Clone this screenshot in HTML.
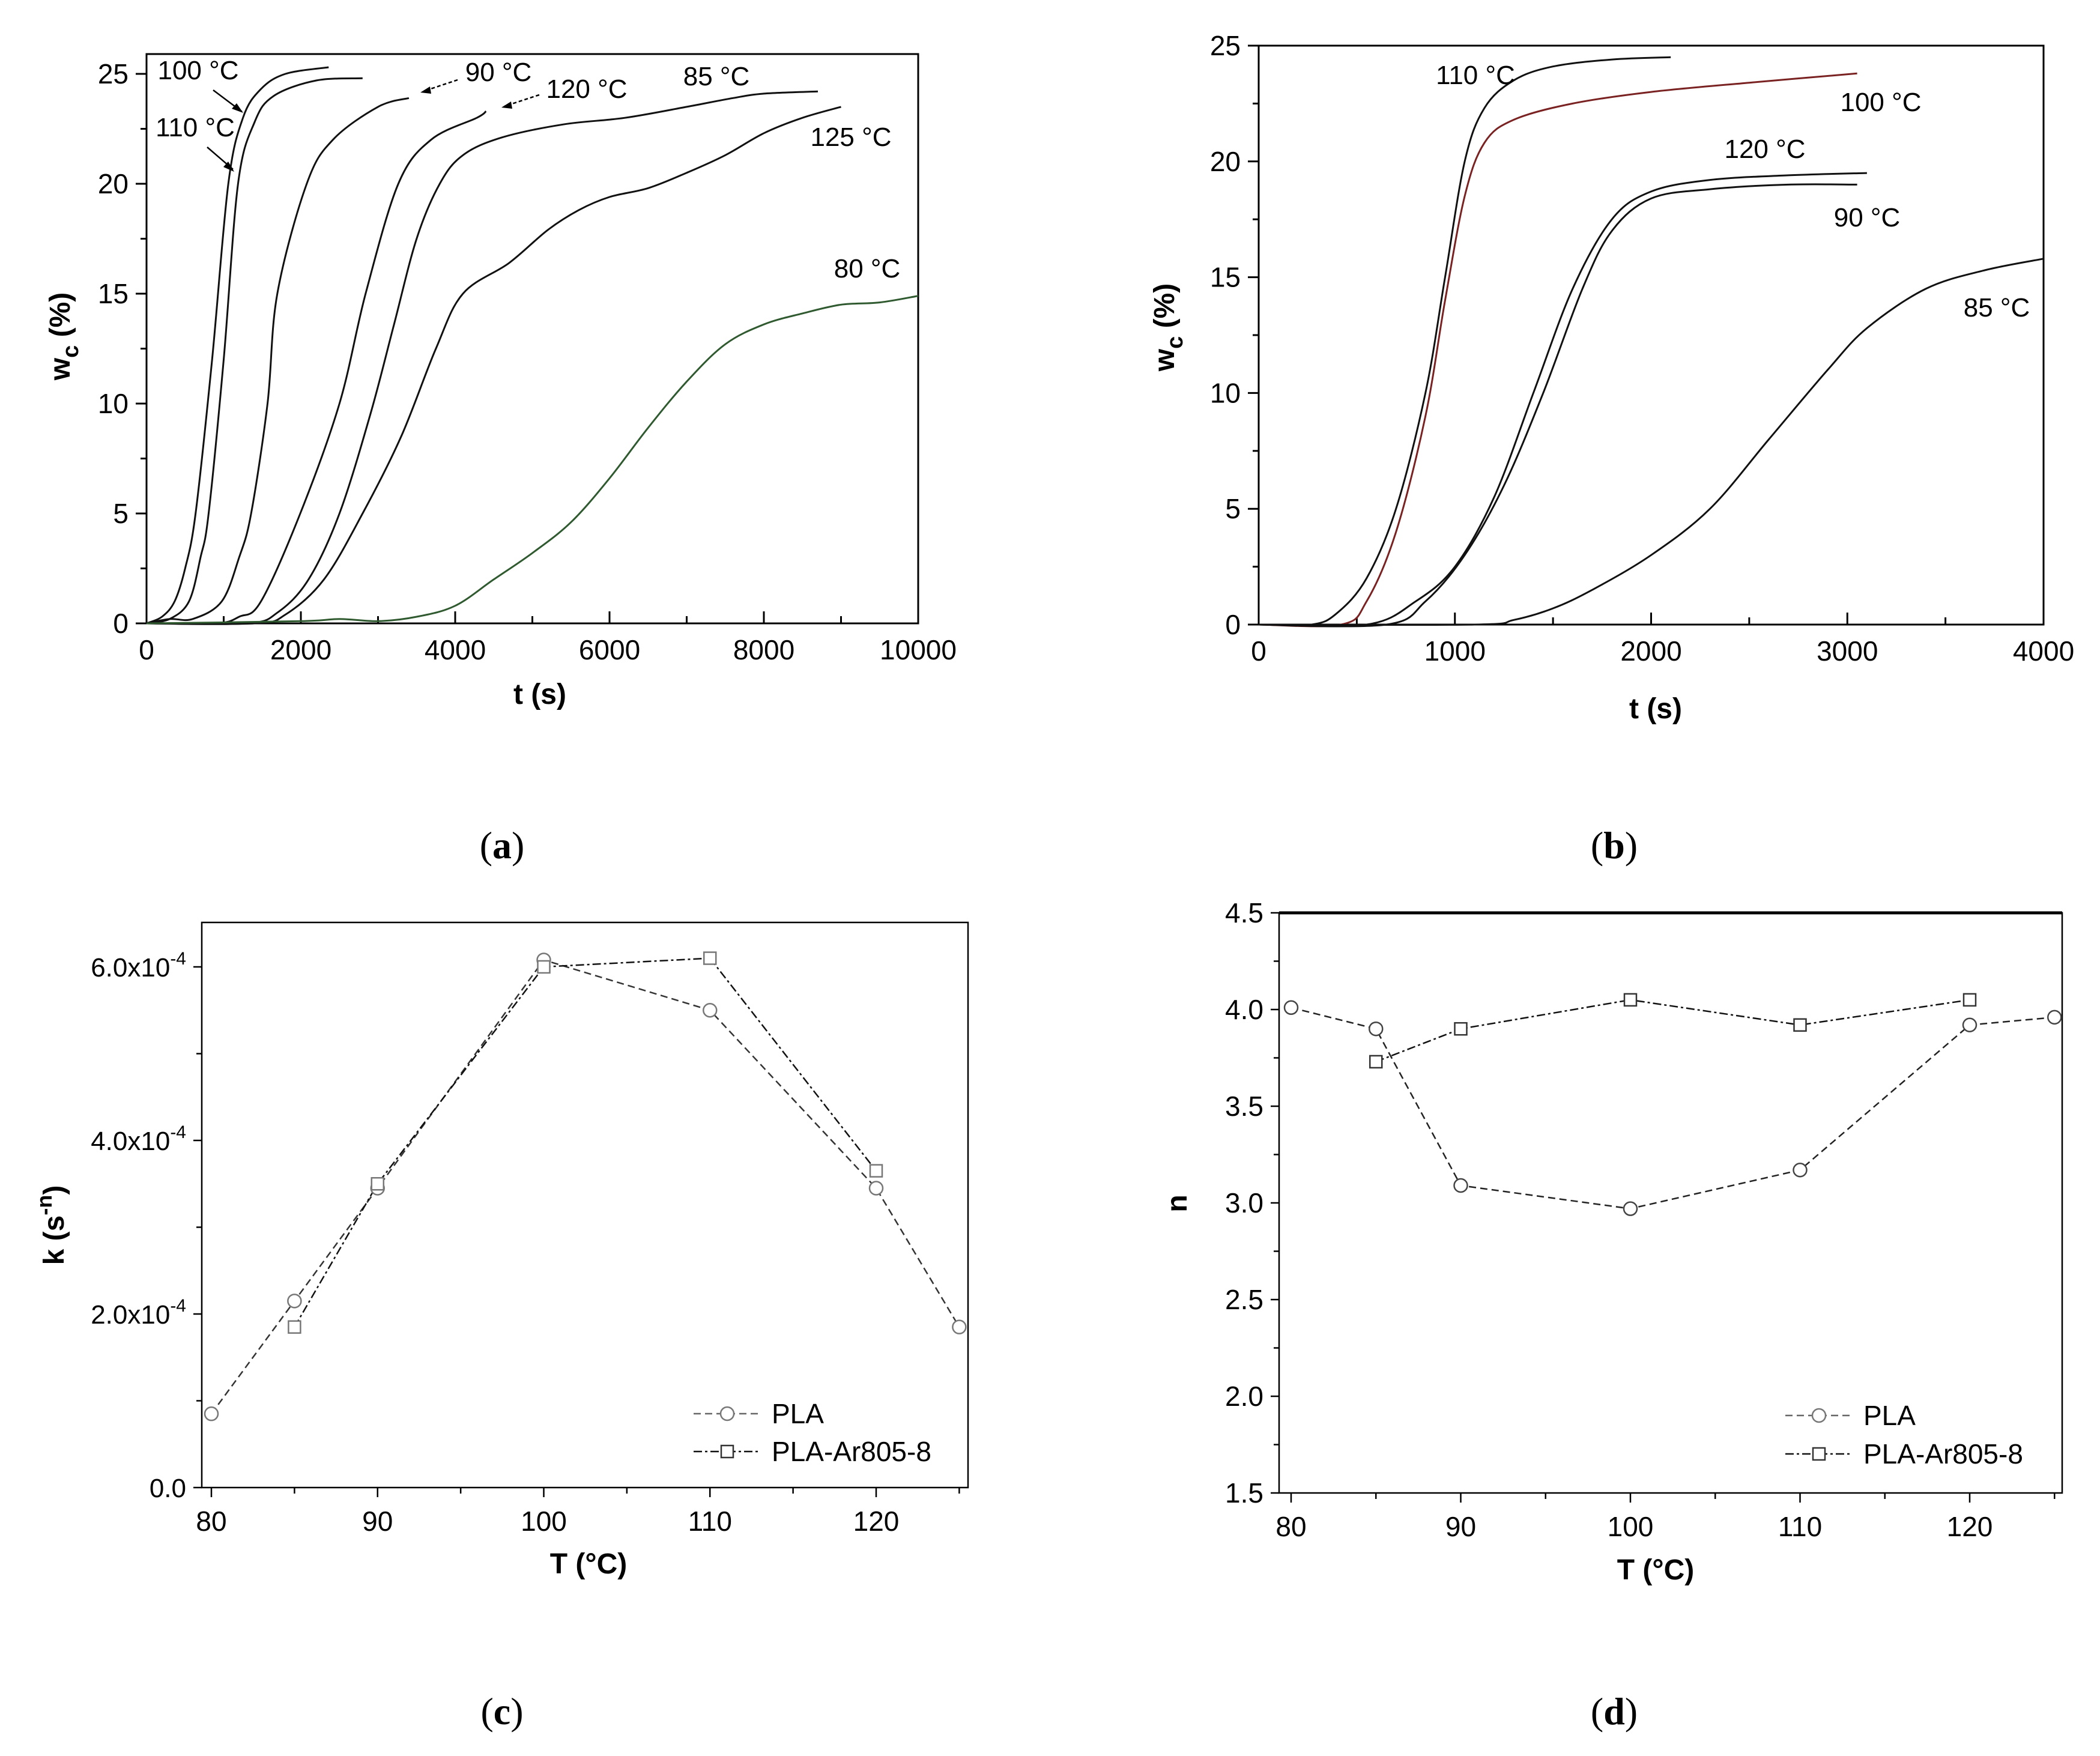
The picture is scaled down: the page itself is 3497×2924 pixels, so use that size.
<!DOCTYPE html>
<html><head><meta charset="utf-8"><style>
html,body{margin:0;padding:0;background:#fff;}
svg{display:block;font-family:"Liberation Sans",Arial,sans-serif;}
</style></head><body>
<svg id="fig" width="3497" height="2924" viewBox="0 0 3497 2924" xmlns="http://www.w3.org/2000/svg">
<rect width="3497" height="2924" fill="#fff"/>
<g id="pa"></g>
<g id="pb"></g>
<g id="pc"></g>
<g id="pd"></g>
<text x="836" y="1429" font-family="Liberation Serif,serif" font-size="64" text-anchor="middle">(<tspan font-weight="bold">a</tspan>)</text>
<text x="2688" y="1429" font-family="Liberation Serif,serif" font-size="64" text-anchor="middle">(<tspan font-weight="bold">b</tspan>)</text>
<text x="836" y="2871" font-family="Liberation Serif,serif" font-size="64" text-anchor="middle">(<tspan font-weight="bold">c</tspan>)</text>
<text x="2688" y="2871" font-family="Liberation Serif,serif" font-size="64" text-anchor="middle">(<tspan font-weight="bold">d</tspan>)</text>
</svg>
<script>
// ---- Panel a data ----
const aNames=["100 °C","110 °C","90 °C","120 °C","85 °C","125 °C","80 °C"];
const a100T=[0,200,364,500,636,850,1060,1250,1480,1800,2360];
const a100W=[0,0.3,1,2.5,5,12,20,23,24.3,25,25.3];
const a110T=[0,300,550,700,805,1000,1186,1400,1650,2200,2800];
const a110W=[0,0.2,1,3,5,12,20,22.8,24,24.7,24.8];
const a90T=[0,300,600,975,1200,1356,1568,1695,2076,2415,3000,3400];
const a90W=[0,0.2,0.2,1,3,5,10,15,20,22,23.5,23.9];
const a120T=[0,900,1200,1483,1992,2500,2839,3263,3686,4280,4400];
const a120W=[0,0,0.3,1,5,10,15,20,22,23,23.3];
const a85T=[0,1300,1700,2100,2500,2900,3200,3500,3800,4100,4600,5400,6200,7000,7600,8000,8700];
const a85W=[0,0,0.5,2,5,9.5,13.5,17.5,20,21.3,22.1,22.7,23,23.5,23.9,24.1,24.2];
const a125T=[0,1400,1800,2300,2800,3300,3750,4100,4700,5200,5600,6000,6500,7000,7500,8000,8500,9000];
const a125W=[0,0,0.4,2,5,8.5,12.5,15,16.4,17.9,18.8,19.4,19.8,20.5,21.3,22.3,23,23.5];
const a80T=[0,2000,2500,3000,3500,4000,4500,5000,5500,6000,6500,7000,7500,8000,8500,9000,9500,10000];
const a80W=[0,0.1,0.2,0.1,0.3,0.8,2,3.2,4.6,6.6,8.9,11,12.7,13.6,14.1,14.5,14.6,14.9];
const aXTicks=[0,2000,4000,6000,8000,10000];
const aYTicks=[0,5,10,15,20,25];
// ---- Panel b data ----
const b110T=[0,270,400,550,700,850,950,1050,1150,1300,1500,1800,2100];
const b110W=[0,0,0.5,2,5,10,15,20,22.3,23.5,24.1,24.4,24.5];
const b100T=[0,420,550,700,850,950,1050,1150,1300,1600,2000,2500,3050];
const b100W=[0,0,1,4,9,14,18.5,20.8,21.8,22.5,23,23.4,23.8];
const b120T=[0,550,800,1000,1200,1400,1600,1800,2000,2300,2700,3100];
const b120W=[0,0,1,2.5,5.5,10,14.5,17.5,18.7,19.2,19.4,19.5];
const b90T=[0,650,850,1050,1250,1450,1650,1800,2000,2300,2700,3050];
const b90W=[0,0,1,3,6,10,14.5,17,18.4,18.8,19,19];
const b85T=[0,1100,1300,1500,1700,2000,2300,2600,2900,3100,3400,3700,4000];
const b85W=[0,0,0.2,0.7,1.5,3,5,8,11,12.8,14.5,15.3,15.8];
const bXTicks=[0,1000,2000,3000,4000];
const bYTicks=[0,5,10,15,20,25];
// ---- Panel c data (k x1e-4) ----
const cPlaT=[80,85,90,100,110,120,125];
const cPlaK=[0.85,2.15,3.45,6.08,5.5,3.45,1.85];
const cArT=[85,90,100,110,120];
const cArK=[1.85,3.5,6.0,6.1,3.65];
const cXTicks=[80,90,100,110,120];
const cYTicks=[0,2,4,6];
// ---- Panel d data ----
const dPlaT=[80,85,90,100,110,120,125];
const dPlaN=[4.01,3.9,3.09,2.97,3.17,3.92,3.96];
const dArT=[85,90,100,110,120];
const dArN=[3.73,3.9,4.05,3.92,4.05];
const dXTicks=[80,90,100,110,120];
const dYTicks=[1.5,2.0,2.5,3.0,3.5,4.0,4.5];

const NS="http://www.w3.org/2000/svg";
function mk(parent,tag,attrs,text){const e=document.createElementNS(NS,tag);for(const k in attrs)e.setAttribute(k,attrs[k]);if(text!==undefined)e.textContent=text;parent.appendChild(e);return e;}
function smooth(pts){let d="M"+pts[0][0]+","+pts[0][1];for(let i=0;i<pts.length-1;i++){const p0=pts[i-1]||pts[i],p1=pts[i],p2=pts[i+1],p3=pts[i+2]||p2;const c1x=p1[0]+(p2[0]-p0[0])/6,c1y=p1[1]+(p2[1]-p0[1])/6,c2x=p2[0]-(p3[0]-p1[0])/6,c2y=p2[1]-(p3[1]-p1[1])/6;d+=" C"+c1x.toFixed(1)+","+c1y.toFixed(1)+" "+c2x.toFixed(1)+","+c2y.toFixed(1)+" "+p2[0].toFixed(1)+","+p2[1].toFixed(1);}return d;}

function frame(g,L,R,T,B){const f=mk(g,"rect",{x:L,y:T,width:R-L,height:B-T,fill:"none",stroke:"#000","stroke-width":3});

}

// ===== Panel a =====
(function(){const g=document.getElementById("pa");const L=244,R=1529,T=90,B=1038;
const sx=t=>L+(t/10000)*(R-L), sy=w=>B-(w/25)*(B-123);
frame(g,L,R,T,B);
for(let t=0;t<=10000;t+=1000){const maj=t%2000===0;mk(g,"line",{x1:sx(t),x2:sx(t),y1:B,y2:B-(maj?20:12),stroke:"#000","stroke-width":3});}
for(let w=0;w<=25;w+=2.5){const maj=w%5===0;mk(g,"line",{x1:L,x2:L-(maj?18:10),y1:sy(w),y2:sy(w),stroke:"#000","stroke-width":3});}
aXTicks.forEach(t=>{const e=mk(g,"text",{x:sx(t),y:B+60,"font-size":46,"text-anchor":"middle"},String(t));

});
aYTicks.forEach(w=>{const e=mk(g,"text",{x:L-30,y:sy(w)+16,"font-size":46,"text-anchor":"end"},String(w));

});
const xt=mk(g,"text",{x:899,y:1172,"font-size":48,"font-weight":"bold","text-anchor":"middle"},"t (s)");


const yt=mk(g,"text",{transform:"translate(116,560) rotate(-90)","font-size":48,"font-weight":"bold","text-anchor":"middle"});
yt.innerHTML='w<tspan dy="14" font-size="38">c</tspan><tspan dy="-14"> (%)</tspan>';


const series=[[a100T,a100W],[a110T,a110W],[a90T,a90W],[a120T,a120W],[a85T,a85W],[a125T,a125W],[a80T,a80W]];
series.forEach((s,i)=>{const p=mk(g,"path",{d:smooth(s[0].map((t,j)=>[sx(t),sy(s[1][j])])),fill:"none",stroke:i===6?"#2f5a2f":"#111","stroke-width":3});

});
const labs=[["100 °C",330,132],["110 °C",325,227],["90 °C",830,135],["120 °C",977,163],["85 °C",1193,142],["125 °C",1417,243],["80 °C",1444,462]];
labs.forEach(l=>{const e=mk(g,"text",{x:l[1],y:l[2],"font-size":44,"text-anchor":"middle"},l[0]);

});
mk(g,"line",{x1:355,y1:150,x2:403,y2:186,stroke:"#000","stroke-width":2.5});
mk(g,"polygon",{points:"405,188 386,181 394,172",fill:"#000"});
mk(g,"line",{x1:345,y1:245,x2:388,y2:282,stroke:"#000","stroke-width":2.5});
mk(g,"polygon",{points:"390,286 372,278 380,269",fill:"#000"});
mk(g,"line",{x1:762,y1:133,x2:705,y2:152,stroke:"#000","stroke-width":2.5,"stroke-dasharray":"6 4"});
mk(g,"polygon",{points:"700,154 716,144 718,156",fill:"#000"});
mk(g,"line",{x1:898,y1:158,x2:840,y2:177,stroke:"#000","stroke-width":2.5,"stroke-dasharray":"6 4"});
mk(g,"polygon",{points:"835,179 851,169 853,181",fill:"#000"});
})();

// ===== Panel b =====
(function(){const g=document.getElementById("pb");const L=2096,R=3403,T=76,B=1040;
const sx=t=>L+(t/4000)*(R-L), sy=w=>B-(w/25)*(B-T);
frame(g,L,R,T,B);
for(let t=0;t<=4000;t+=500){const maj=t%1000===0;mk(g,"line",{x1:sx(t),x2:sx(t),y1:B,y2:B-(maj?20:12),stroke:"#000","stroke-width":3});}
for(let w=0;w<=25;w+=2.5){const maj=w%5===0;mk(g,"line",{x1:L,x2:L-(maj?18:10),y1:sy(w),y2:sy(w),stroke:"#000","stroke-width":3});}
bXTicks.forEach(t=>{const e=mk(g,"text",{x:sx(t),y:B+60,"font-size":46,"text-anchor":"middle"},String(t));

});
bYTicks.forEach(w=>{const e=mk(g,"text",{x:L-30,y:sy(w)+16,"font-size":46,"text-anchor":"end"},String(w));

});
const xt=mk(g,"text",{x:2757,y:1196,"font-size":48,"font-weight":"bold","text-anchor":"middle"},"t (s)");


const yt=mk(g,"text",{transform:"translate(1955,545) rotate(-90)","font-size":48,"font-weight":"bold","text-anchor":"middle"});
yt.innerHTML='w<tspan dy="14" font-size="38">c</tspan><tspan dy="-14"> (%)</tspan>';


const series=[[b110T,b110W,"#111","110c"],[b100T,b100W,"#7a2222","100c"],[b120T,b120W,"#111","120c"],[b90T,b90W,"#111","90c"],[b85T,b85W,"#111","85c"]];
series.forEach(s=>{const p=mk(g,"path",{d:smooth(s[0].map((t,j)=>[sx(t),sy(s[1][j])])),fill:"none",stroke:s[2],"stroke-width":3});

});
const labs=[["110 °C",2457,140],["100 °C",3132,185],["120 °C",2939,263],["90 °C",3109,377],["85 °C",3325,527]];
labs.forEach(l=>{const e=mk(g,"text",{x:l[1],y:l[2],"font-size":44,"text-anchor":"middle"},l[0]);

});
})();

function markers(g,pts,type,color){pts.forEach(p=>{let e;if(type==="c")e=mk(g,"circle",{cx:p[0],cy:p[1],r:11,fill:"#fff",stroke:color,"stroke-width":2.5});else e=mk(g,"rect",{x:p[0]-10,y:p[1]-10,width:20,height:20,fill:"#fff",stroke:color,"stroke-width":2.5});

});}

function legend(g,x0,y1,y2,tx){mk(g,"line",{x1:x0,x2:x0+112,y1:y1,y2:y1,stroke:"#666","stroke-width":2.5,"stroke-dasharray":"12 7"});
const c=mk(g,"circle",{cx:x0+56,cy:y1,r:11,fill:"#fff",stroke:"#777","stroke-width":2.5});


mk(g,"line",{x1:x0,x2:x0+112,y1:y2,y2:y2,stroke:"#111","stroke-width":2.5,"stroke-dasharray":"14 5 4 5"});
const r=mk(g,"rect",{x:x0+46,y:y2-10,width:20,height:20,fill:"#fff",stroke:"#333","stroke-width":2.5});


const t1=mk(g,"text",{x:tx,y:y1+16,"font-size":46},"PLA");


const t2=mk(g,"text",{x:tx,y:y2+16,"font-size":46},"PLA-Ar805-8");

}

// ===== Panel c =====
(function(){const g=document.getElementById("pc");const L=336,R=1612,T=1536,B=2477;
const sx=t=>352+(t-80)*(1459-352)/40, sy=k=>B-(k/6)*(B-1610);
mk(g,"rect",{x:L,y:T,width:R-L,height:B-T,fill:"none",stroke:"#000","stroke-width":2.5});
for(let t=80;t<=125;t+=5){const maj=t%10===0;mk(g,"line",{x1:sx(t),x2:sx(t),y1:B,y2:B+(maj?16:10),stroke:"#000","stroke-width":2.5});}
for(let k=0;k<=6.5;k+=1){const maj=k%2===0;mk(g,"line",{x1:L,x2:L-(maj?14:9),y1:sy(k),y2:sy(k),stroke:"#000","stroke-width":2.5});}
cXTicks.forEach(t=>{const e=mk(g,"text",{x:sx(t),y:B+72,"font-size":46,"text-anchor":"middle"},String(t));

});
cYTicks.forEach(k=>{const e=mk(g,"text",{x:L-26,y:sy(k)+16,"font-size":44,"text-anchor":"end"});
e.innerHTML=k===0?"0.0":(k.toFixed(1)+'x10<tspan dy="-20" font-size="30">-4</tspan>');

});
const xt=mk(g,"text",{x:980,y:2620,"font-size":48,"font-weight":"bold","text-anchor":"middle"},"T (°C)");


const yt=mk(g,"text",{transform:"translate(106,2040) rotate(-90)","font-size":48,"font-weight":"bold","text-anchor":"middle"});
yt.innerHTML='k (s<tspan dy="-20" font-size="36">-n</tspan><tspan dy="20">)</tspan>';


const pP=cPlaT.map((t,i)=>[sx(t),sy(cPlaK[i])]), pA=cArT.map((t,i)=>[sx(t),sy(cArK[i])]);
const l1=mk(g,"polyline",{points:pP.map(p=>p.join(",")).join(" "),fill:"none",stroke:"#333","stroke-width":2.5,"stroke-dasharray":"12 7"});


const l2=mk(g,"polyline",{points:pA.map(p=>p.join(",")).join(" "),fill:"none",stroke:"#111","stroke-width":2.5,"stroke-dasharray":"14 5 4 5"});


markers(g,pP,"c","#777");markers(g,pA,"s","#777");
legend(g,1155,2354,2417,1285);
})();

// ===== Panel d =====
(function(){const g=document.getElementById("pd");const L=2130,R=3434,T=1520,B=2486;
const sx=t=>2150+(t-80)*(3280-2150)/40, sy=n=>B-(n-1.5)/3*(B-T);
mk(g,"rect",{x:L,y:T,width:R-L,height:B-T,fill:"none",stroke:"#000","stroke-width":2.5});
mk(g,"line",{x1:L,x2:R,y1:T,y2:T,stroke:"#000","stroke-width":5});
for(let t=80;t<=125;t+=5){const maj=t%10===0;mk(g,"line",{x1:sx(t),x2:sx(t),y1:B,y2:B+(maj?16:10),stroke:"#000","stroke-width":2.5});}
for(let n=1.5;n<=4.51;n+=0.25){const maj=Math.abs(n*2-Math.round(n*2))<1e-6;mk(g,"line",{x1:L,x2:L-(maj?14:9),y1:sy(n),y2:sy(n),stroke:"#000","stroke-width":2.5});}
dXTicks.forEach(t=>{const e=mk(g,"text",{x:sx(t),y:B+72,"font-size":46,"text-anchor":"middle"},String(t));

});
dYTicks.forEach(n=>{const e=mk(g,"text",{x:L-26,y:sy(n)+16,"font-size":46,"text-anchor":"end"},n.toFixed(1));

});
const xt=mk(g,"text",{x:2757,y:2630,"font-size":48,"font-weight":"bold","text-anchor":"middle"},"T (°C)");


const yt=mk(g,"text",{transform:"translate(1976,2004) rotate(-90)","font-size":48,"font-weight":"bold","text-anchor":"middle"},"n");


const pP=dPlaT.map((t,i)=>[sx(t),sy(dPlaN[i])]), pA=dArT.map((t,i)=>[sx(t),sy(dArN[i])]);
const l1=mk(g,"polyline",{points:pP.map(p=>p.join(",")).join(" "),fill:"none",stroke:"#222","stroke-width":2.5,"stroke-dasharray":"12 7"});


const l2=mk(g,"polyline",{points:pA.map(p=>p.join(",")).join(" "),fill:"none",stroke:"#111","stroke-width":2.5,"stroke-dasharray":"14 5 4 5"});


markers(g,pP,"c","#444");markers(g,pA,"s","#333");
legend(g,2973,2357,2421,3103);
})();
</script>
</body></html>
